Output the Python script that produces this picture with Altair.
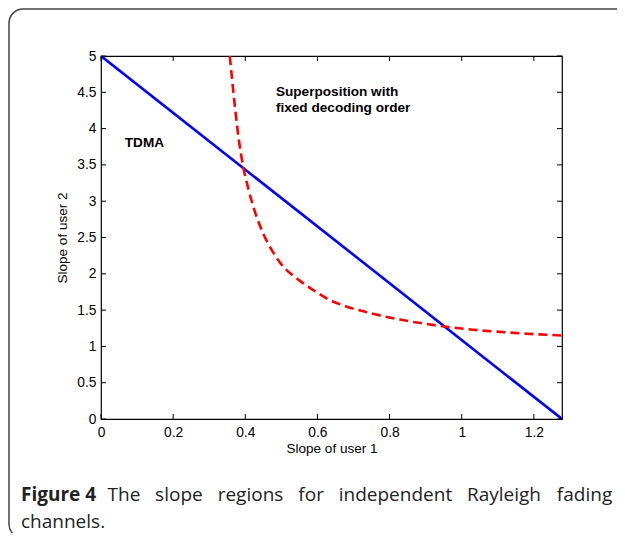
import altair as alt
import pandas as pd

# ---- data ----
tdma_x = [0.0, 1.278]
tdma_y = [5.0, 0.0]

sup_x = [0.357, 0.365, 0.373, 0.382, 0.394, 0.408, 0.427, 0.450, 0.473, 0.500,
         0.547, 0.584, 0.634, 0.680, 0.737, 0.828, 0.900, 0.958, 1.030, 1.105,
         1.180, 1.278]
sup_y = [5.00, 4.60, 4.22, 3.85, 3.48, 3.18, 2.85, 2.55, 2.33, 2.13,
         1.92, 1.79, 1.64, 1.55, 1.47, 1.37, 1.31, 1.27, 1.23, 1.20,
         1.175, 1.15]

x_ticks = [0, 0.2, 0.4, 0.6, 0.8, 1.0, 1.2]
y_ticks = [0, 0.5, 1, 1.5, 2, 2.5, 3, 3.5, 4, 4.5, 5]

caption_bold = "Figure 4"
caption_words = ["The", "slope", "regions", "for", "independent", "Rayleigh", "fading"]
caption_line2 = "channels."

X_MAX = 1.278
W, H = 461, 363
AXIS_FONT = "Liberation Sans"
CAP_FONT = "Open Sans"
CAP_SIZE = 19

tdma_df = pd.DataFrame({"x": tdma_x, "y": tdma_y})
sup_df = pd.DataFrame({"x": sup_x, "y": sup_y})
xt_df = pd.DataFrame({"t": x_ticks})
yt_df = pd.DataFrame({"t": y_ticks})
one = pd.DataFrame({"a": [0]})

xs = alt.Scale(domain=[0, X_MAX], nice=False, zero=False)
ys = alt.Scale(domain=[0, 5], nice=False, zero=False)

common_axis = dict(tickSize=0, domain=False, grid=False, labelFontSize=13.8,
                   titleFontSize=13.5, titleFontWeight="normal", labelFont=AXIS_FONT,
                   titleFont=AXIS_FONT, labelColor="#000", titleColor="#000",
                   labelFlush=False, labelOverlap=False,
                   labelExpr="'' + datum.value")
x_axis = alt.Axis(values=x_ticks, title="Slope of user 1", labelPadding=6,
                  titlePadding=3, **common_axis)
y_axis = alt.Axis(values=y_ticks, title="Slope of user 2", labelPadding=5,
                  titlePadding=7, **common_axis)


def X(field):
    return alt.X(field, scale=xs, axis=x_axis)


def Y(field):
    return alt.Y(field, scale=ys, axis=y_axis)


tdma = alt.Chart(tdma_df).mark_line(color="#0000ff", strokeWidth=2.6, clip=True).encode(
    x=X("x:Q"), y=Y("y:Q"))

sup = alt.Chart(sup_df).mark_line(color="#ff0000", strokeWidth=2.6, strokeDash=[9, 5],
                                   interpolate="monotone", clip=True).encode(
    x=X("x:Q"), y=Y("y:Q"))

# inner ticks (MATLAB style) on all four sides
tb = alt.Chart(xt_df).mark_rule(color="#000", strokeWidth=1)
tick_bottom = tb.encode(x=X("t:Q"), y=alt.value(H), y2=alt.value(H - 5))
tick_top = tb.encode(x=X("t:Q"), y=alt.value(0), y2=alt.value(5))
lb = alt.Chart(yt_df).mark_rule(color="#000", strokeWidth=1)
tick_left = lb.encode(y=Y("t:Q"), x=alt.value(0), x2=alt.value(5))
tick_right = lb.encode(y=Y("t:Q"), x=alt.value(W), x2=alt.value(W - 5))

lbl_df = pd.DataFrame({"x": [0.066], "y": [3.80], "txt": ["TDMA"]})
tdma_lbl = alt.Chart(lbl_df).mark_text(align="left", baseline="middle", fontSize=13.6,
                                       fontWeight="bold", font=AXIS_FONT, color="#000").encode(
    x=X("x:Q"), y=Y("y:Q"), text="txt:N")

sup_lbl_df = pd.DataFrame({"x": [0.485], "y": [4.50],
                           "txt": ["Superposition with|fixed decoding order"]})
sup_lbl = alt.Chart(sup_lbl_df).mark_text(align="left", baseline="middle", fontSize=13.6,
                                          fontWeight="bold", font=AXIS_FONT, color="#000",
                                          lineBreak="|", lineHeight=15.5).encode(
    x=X("x:Q"), y=Y("y:Q"), text="txt:N")

# outer figure frame
frame = alt.Chart(one).mark_rect(filled=False, stroke="#444", strokeWidth=1.5,
                                 cornerRadius=14, clip=False).encode(
    x=alt.value(-92), x2=alt.value(560), y=alt.value(-47), y2=alt.value(482))

# caption, justified between left and right edges (approximate Open Sans advance widths, em)
REG = {"T": .560, "h": .614, "e": .561, "s": .489, "l": .260, "o": .604, "p": .613,
       "r": .408, "g": .548, "i": .253, "n": .614, "f": .350, "d": .613, "R": .635,
       "a": .576, "y": .522, "t": .361, "c": .478}
BOLD_W = 3.79  # "Figure 4" in Open Sans Bold, em
CAP_LEFT, CAP_RIGHT = 21 - 101, 613 - 101   # plot-relative pixels
words_w = [sum(REG[c] for c in w) * CAP_SIZE for w in caption_words]
total = BOLD_W * CAP_SIZE + sum(words_w)
gap = (CAP_RIGHT - CAP_LEFT - total) / len(caption_words)

cap_layers = [alt.Chart(one).mark_text(align="left", baseline="alphabetic", fontSize=CAP_SIZE,
                                       fontWeight="bold", font=CAP_FONT, color="#222").encode(
    x=alt.value(CAP_LEFT), y=alt.value(501 - 56), text=alt.value(caption_bold))]
pos = CAP_LEFT + BOLD_W * CAP_SIZE + gap
for w, ww in zip(caption_words, words_w):
    cap_layers.append(alt.Chart(one).mark_text(align="left", baseline="alphabetic",
                                               fontSize=CAP_SIZE, font=CAP_FONT,
                                               color="#222").encode(
        x=alt.value(pos), y=alt.value(501 - 56), text=alt.value(w)))
    pos += ww + gap
cap_layers.append(alt.Chart(one).mark_text(align="left", baseline="alphabetic",
                                           fontSize=CAP_SIZE, font=CAP_FONT,
                                           color="#222").encode(
    x=alt.value(CAP_LEFT), y=alt.value(528 - 56), text=alt.value(caption_line2)))

chart = alt.layer(
    frame, tdma, sup, tick_bottom, tick_top, tick_left, tick_right,
    tdma_lbl, sup_lbl, *cap_layers
).properties(
    width=W, height=H,
    autosize=alt.AutoSizeParams(type="none"),
    padding={"left": 93, "top": 48, "right": 55, "bottom": 114},
    background="white",
).configure_view(stroke="#000", strokeWidth=1.2)

chart.save("out.html", embed_options={"renderer": "svg", "actions": False})
